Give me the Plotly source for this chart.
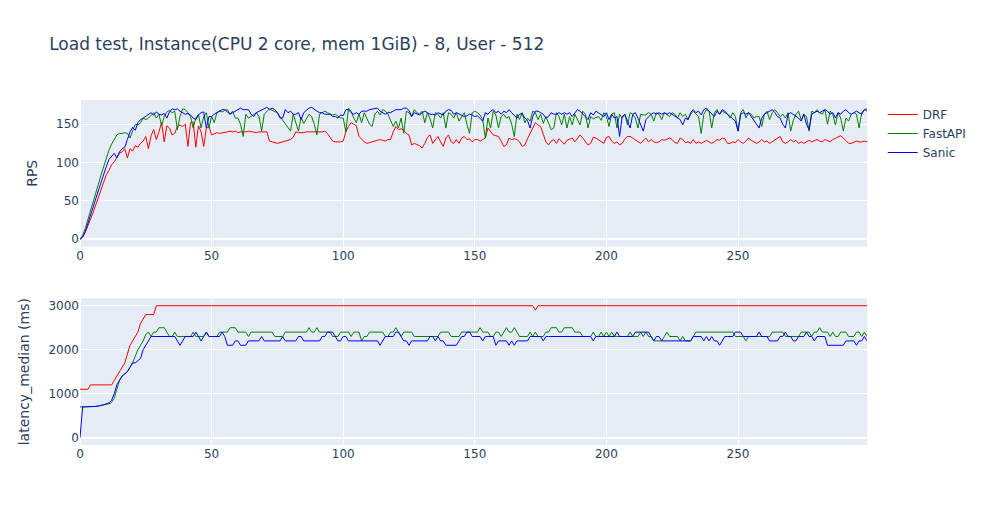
import plotly.graph_objects as go
from plotly.subplots import make_subplots

title = "Load test, Instance(CPU 2 core, mem 1GiB) - 8, User - 512"
series_names = ["DRF", "FastAPI", "Sanic"]
series_colors = ["red", "green", "blue"]

seconds = list(range(300))

rps_drf = [
    0, 3, 9, 17, 26, 35, 45, 55, 65, 75,
    84, 90, 97, 101, 106, 112, 114, 118, 106, 118,
    115, 122, 120, 125, 128, 134, 118, 135, 143, 130,
    140, 152, 127, 148, 145, 136, 138, 147, 149, 147,
    150, 121, 152, 153, 120, 148, 140, 121, 145, 147,
    136, 138, 139, 138, 139, 140, 140, 141, 140, 141,
    139, 140, 140, 140, 141, 140, 140, 139, 140, 140,
    140, 140, 128, 127, 126, 125, 126, 127, 128, 129,
    130, 133, 140, 139, 139, 139, 140, 140, 140, 140,
    140, 140, 140, 141, 138, 133, 128, 127, 127, 127,
    128, 140, 147, 152, 150, 148, 134, 130, 127, 125,
    126, 127, 128, 129, 130, 129, 128, 130, 130, 140,
    147, 143, 144, 142, 138, 136, 123, 125, 124, 122,
    119, 125, 133, 136, 125, 130, 134, 127, 121, 132,
    136, 127, 125, 130, 125, 132, 134, 130, 131, 127,
    130, 130, 128, 130, 132, 145, 140, 136, 135, 134,
    128, 121, 123, 132, 130, 131, 130, 127, 121, 123,
    131, 138, 144, 152, 149, 147, 137, 127, 123, 128,
    130, 125, 131, 127, 124, 129, 130, 132, 127, 132,
    136, 132, 127, 123, 125, 133, 132, 130, 127, 125,
    133, 134, 128, 125, 127, 123, 125, 131, 134, 134,
    132, 130, 127, 125, 129, 132, 127, 130, 127, 126,
    127, 130, 129, 130, 132, 130, 126, 125, 132, 130,
    126, 127, 125, 130, 125, 127, 125, 127, 129, 127,
    125, 127, 130, 129, 132, 131, 125, 125, 127, 126,
    130, 127, 125, 128, 132, 129, 127, 125, 127, 130,
    127, 128, 125, 127, 129, 132, 134, 127, 125, 127,
    130, 127, 129, 125, 127, 125, 127, 129, 127, 128,
    130, 128, 127, 130, 129, 127, 130, 132, 134, 135,
    132, 129, 125, 125, 127, 128, 127, 127, 128, 127,
]

rps_fastapi = [
    0, 5, 14, 25, 36, 48, 60, 72, 84, 95,
    106, 116, 124, 130, 136, 138, 138, 139, 138, 132,
    140, 150, 149, 152, 158, 156, 158, 162, 165, 158,
    163, 148, 160, 166, 168, 165, 167, 143, 160, 170,
    169, 165, 160, 145, 158, 163, 145, 160, 165, 145,
    160, 152, 165, 167, 166, 168, 169, 163, 167, 158,
    158, 150, 134, 163, 158, 160, 163, 165, 160, 141,
    163, 167, 170, 168, 166, 165, 160, 155, 150, 145,
    141, 163, 152, 141, 159, 151, 157, 163, 160, 150,
    136, 163, 165, 167, 165, 163, 162, 163, 160, 158,
    158, 140, 171, 167, 158, 152, 163, 152, 165, 158,
    150, 147, 163, 167, 162, 169, 167, 163, 155, 147,
    154, 145, 158, 138, 167, 165, 160, 169, 165, 163,
    167, 152, 165, 157, 145, 165, 163, 158, 165, 145,
    165, 163, 158, 165, 154, 160, 165, 150, 138, 165,
    167, 165, 162, 156, 132, 158, 145, 167, 162, 145,
    160, 163, 158, 160, 150, 134, 163, 156, 165, 152,
    158, 154, 167, 165, 156, 163, 151, 160, 150, 143,
    145, 165, 160, 149, 163, 145, 160, 149, 163, 156,
    149, 167, 163, 145, 160, 157, 158, 160, 155, 165,
    160, 147, 163, 165, 145, 163, 158, 163, 149, 165,
    163, 158, 145, 163, 162, 162, 165, 163, 154, 165,
    163, 156, 165, 163, 160, 165, 163, 158, 165, 160,
    163, 156, 163, 167, 163, 160, 138, 163, 169, 167,
    145, 165, 169, 163, 167, 165, 163, 158, 165, 160,
    141, 165, 169, 158, 165, 163, 158, 160, 160, 147,
    163, 167, 156, 165, 169, 165, 160, 163, 158, 165,
    141, 155, 163, 167, 156, 163, 160, 141, 167, 165,
    169, 165, 163, 169, 150, 167, 163, 149, 165, 158,
    141, 158, 154, 163, 165, 163, 145, 165, 169, 167,
]

rps_sanic = [
    0, 3, 10, 20, 31, 42, 53, 64, 75, 86,
    95, 104, 108, 112, 106, 114, 118, 120, 130, 140,
    146, 142, 152, 156, 158, 160, 162, 165, 162, 166,
    163, 162, 164, 158, 166, 170, 169, 170, 167, 165,
    163, 164, 162, 158, 156, 162, 165, 166, 145, 160,
    160, 163, 165, 167, 169, 169, 166, 163, 165, 167,
    169, 171, 169, 169, 169, 163, 160, 165, 167, 169,
    171, 172, 169, 171, 169, 165, 158, 158, 169, 165,
    167, 163, 163, 165, 156, 165, 168, 171, 172, 169,
    167, 165, 165, 163, 163, 163, 160, 160, 158, 162,
    161, 169, 169, 165, 163, 165, 163, 167, 167, 167,
    169, 170, 171, 171, 167, 165, 163, 165, 165, 167,
    169, 169, 169, 171, 171, 168, 160, 165, 163, 162,
    165, 167, 165, 163, 163, 162, 165, 163, 162, 167,
    169, 168, 163, 165, 163, 162, 160, 161, 163, 162,
    160, 161, 158, 154, 165, 163, 167, 169, 165, 167,
    163, 167, 165, 169, 165, 161, 158, 163, 164, 158,
    155, 145, 160, 167, 167, 165, 163, 158, 160, 165,
    163, 163, 165, 163, 165, 163, 165, 160, 165, 169,
    167, 163, 160, 156, 165, 162, 167, 165, 163, 160,
    165, 156, 163, 158, 160, 134, 160, 163, 154, 145,
    163, 165, 158, 150, 141, 156, 160, 163, 165, 163,
    165, 163, 165, 163, 165, 163, 160, 158, 156, 149,
    158, 156, 165, 169, 165, 167, 162, 169, 171, 167,
    163, 160, 167, 163, 169, 167, 163, 160, 158, 154,
    141, 163, 165, 163, 165, 160, 156, 150, 145, 158,
    163, 165, 167, 169, 165, 160, 158, 150, 145, 163,
    165, 163, 160, 158, 154, 163, 150, 143, 163, 165,
    167, 165, 167, 169, 167, 163, 165, 158, 165, 163,
    167, 169, 165, 163, 165, 167, 165, 163, 169, 170,
]

lat_drf = [
    1100, 1100, 1100, 1100, 1200, 1200, 1200, 1200, 1200, 1200,
    1200, 1200, 1200, 1300, 1400, 1500, 1600, 1700, 1900, 2100,
    2200, 2300, 2400, 2600, 2700, 2800, 2800, 2800, 2800, 3000,
    3000, 3000, 3000, 3000, 3000, 3000, 3000, 3000, 3000, 3000,
    3000, 3000, 3000, 3000, 3000, 3000, 3000, 3000, 3000, 3000,
    3000, 3000, 3000, 3000, 3000, 3000, 3000, 3000, 3000, 3000,
    3000, 3000, 3000, 3000, 3000, 3000, 3000, 3000, 3000, 3000,
    3000, 3000, 3000, 3000, 3000, 3000, 3000, 3000, 3000, 3000,
    3000, 3000, 3000, 3000, 3000, 3000, 3000, 3000, 3000, 3000,
    3000, 3000, 3000, 3000, 3000, 3000, 3000, 3000, 3000, 3000,
    3000, 3000, 3000, 3000, 3000, 3000, 3000, 3000, 3000, 3000,
    3000, 3000, 3000, 3000, 3000, 3000, 3000, 3000, 3000, 3000,
    3000, 3000, 3000, 3000, 3000, 3000, 3000, 3000, 3000, 3000,
    3000, 3000, 3000, 3000, 3000, 3000, 3000, 3000, 3000, 3000,
    3000, 3000, 3000, 3000, 3000, 3000, 3000, 3000, 3000, 3000,
    3000, 3000, 3000, 3000, 3000, 3000, 3000, 3000, 3000, 3000,
    3000, 3000, 3000, 3000, 3000, 3000, 3000, 3000, 3000, 3000,
    3000, 3000, 3000, 2900, 3000, 3000, 3000, 3000, 3000, 3000,
    3000, 3000, 3000, 3000, 3000, 3000, 3000, 3000, 3000, 3000,
    3000, 3000, 3000, 3000, 3000, 3000, 3000, 3000, 3000, 3000,
    3000, 3000, 3000, 3000, 3000, 3000, 3000, 3000, 3000, 3000,
    3000, 3000, 3000, 3000, 3000, 3000, 3000, 3000, 3000, 3000,
    3000, 3000, 3000, 3000, 3000, 3000, 3000, 3000, 3000, 3000,
    3000, 3000, 3000, 3000, 3000, 3000, 3000, 3000, 3000, 3000,
    3000, 3000, 3000, 3000, 3000, 3000, 3000, 3000, 3000, 3000,
    3000, 3000, 3000, 3000, 3000, 3000, 3000, 3000, 3000, 3000,
    3000, 3000, 3000, 3000, 3000, 3000, 3000, 3000, 3000, 3000,
    3000, 3000, 3000, 3000, 3000, 3000, 3000, 3000, 3000, 3000,
    3000, 3000, 3000, 3000, 3000, 3000, 3000, 3000, 3000, 3000,
    3000, 3000, 3000, 3000, 3000, 3000, 3000, 3000, 3000, 3000,
]

lat_fastapi = [
    700, 700, 700, 700, 700, 700, 710, 720, 730, 740,
    750, 770, 800, 900, 1100, 1300, 1400, 1450, 1500, 1600,
    1700, 1850, 2000, 2100, 2200, 2350, 2400, 2300, 2400, 2400,
    2500, 2500, 2500, 2400, 2300, 2300, 2400, 2300, 2300, 2300,
    2300, 2300, 2300, 2400, 2300, 2300, 2300, 2300, 2400, 2300,
    2300, 2300, 2300, 2400, 2400, 2400, 2400, 2500, 2500, 2500,
    2400, 2400, 2400, 2400, 2300, 2400, 2400, 2400, 2400, 2400,
    2400, 2400, 2400, 2400, 2300, 2300, 2300, 2300, 2400, 2400,
    2400, 2400, 2400, 2400, 2400, 2400, 2400, 2500, 2400, 2400,
    2500, 2400, 2400, 2400, 2400, 2400, 2300, 2300, 2300, 2400,
    2400, 2400, 2400, 2300, 2400, 2400, 2400, 2200, 2300, 2300,
    2400, 2400, 2400, 2400, 2400, 2400, 2300, 2300, 2400, 2400,
    2500, 2400, 2300, 2400, 2400, 2400, 2400, 2300, 2300, 2300,
    2300, 2300, 2300, 2300, 2300, 2300, 2300, 2400, 2400, 2400,
    2400, 2300, 2300, 2300, 2300, 2400, 2400, 2400, 2400, 2400,
    2400, 2400, 2500, 2400, 2400, 2400, 2300, 2300, 2400, 2400,
    2300, 2400, 2500, 2400, 2400, 2500, 2400, 2300, 2300, 2300,
    2300, 2400, 2300, 2400, 2300, 2300, 2300, 2400, 2400, 2500,
    2500, 2500, 2400, 2400, 2500, 2500, 2500, 2500, 2400, 2400,
    2400, 2300, 2300, 2300, 2300, 2400, 2300, 2300, 2400, 2300,
    2400, 2300, 2400, 2300, 2300, 2300, 2300, 2300, 2300, 2400,
    2300, 2300, 2300, 2400, 2300, 2400, 2300, 2300, 2200, 2200,
    2200, 2200, 2300, 2400, 2300, 2300, 2300, 2300, 2200, 2300,
    2200, 2200, 2200, 2300, 2400, 2400, 2400, 2400, 2400, 2400,
    2400, 2400, 2400, 2400, 2400, 2400, 2400, 2400, 2400, 2300,
    2300, 2300, 2300, 2200, 2300, 2300, 2300, 2300, 2300, 2300,
    2300, 2300, 2300, 2400, 2400, 2400, 2400, 2400, 2300, 2300,
    2300, 2300, 2300, 2300, 2400, 2400, 2400, 2400, 2300, 2400,
    2400, 2500, 2400, 2400, 2400, 2300, 2400, 2300, 2300, 2400,
    2400, 2400, 2300, 2300, 2300, 2400, 2400, 2300, 2400, 2300,
]

lat_sanic = [
    0, 700, 700, 700, 700, 700, 710, 720, 730, 750,
    770, 790, 850, 1000, 1200, 1300, 1400, 1450, 1500, 1600,
    1700, 1700, 1750, 1800, 2000, 2100, 2200, 2300, 2300, 2300,
    2300, 2300, 2300, 2300, 2300, 2300, 2300, 2200, 2100, 2200,
    2300, 2300, 2300, 2300, 2400, 2300, 2200, 2300, 2400, 2300,
    2300, 2300, 2300, 2300, 2400, 2300, 2100, 2100, 2100, 2200,
    2200, 2100, 2100, 2100, 2200, 2200, 2200, 2200, 2200, 2300,
    2200, 2200, 2200, 2200, 2200, 2200, 2200, 2300, 2200, 2200,
    2200, 2200, 2200, 2300, 2300, 2200, 2200, 2200, 2200, 2200,
    2200, 2200, 2300, 2300, 2400, 2400, 2400, 2300, 2200, 2200,
    2300, 2300, 2200, 2200, 2200, 2200, 2200, 2200, 2200, 2200,
    2200, 2200, 2200, 2200, 2100, 2200, 2300, 2300, 2300, 2300,
    2400, 2400, 2300, 2200, 2200, 2100, 2200, 2200, 2200, 2200,
    2200, 2200, 2200, 2300, 2300, 2200, 2300, 2200, 2200, 2100,
    2100, 2100, 2100, 2100, 2200, 2300, 2300, 2400, 2400, 2300,
    2300, 2300, 2300, 2200, 2300, 2300, 2300, 2300, 2100, 2200,
    2200, 2200, 2200, 2100, 2200, 2100, 2200, 2200, 2200, 2200,
    2200, 2300, 2300, 2300, 2300, 2300, 2200, 2300, 2300, 2300,
    2300, 2300, 2300, 2300, 2300, 2300, 2300, 2300, 2300, 2300,
    2300, 2300, 2300, 2300, 2300, 2200, 2300, 2300, 2300, 2300,
    2300, 2300, 2300, 2300, 2400, 2300, 2300, 2300, 2300, 2300,
    2300, 2400, 2400, 2400, 2400, 2400, 2400, 2300, 2200, 2300,
    2300, 2200, 2200, 2200, 2200, 2200, 2200, 2200, 2200, 2200,
    2200, 2200, 2200, 2300, 2300, 2300, 2300, 2200, 2300, 2200,
    2300, 2200, 2200, 2100, 2200, 2300, 2300, 2300, 2300, 2400,
    2400, 2400, 2300, 2300, 2300, 2300, 2300, 2300, 2400, 2300,
    2300, 2300, 2200, 2200, 2200, 2200, 2300, 2300, 2400, 2300,
    2300, 2200, 2200, 2300, 2300, 2300, 2400, 2300, 2300, 2200,
    2300, 2300, 2300, 2300, 2100, 2100, 2100, 2100, 2100, 2100,
    2100, 2200, 2200, 2200, 2200, 2100, 2200, 2200, 2300, 2200,
]

rps_series = [rps_drf, rps_fastapi, rps_sanic]
lat_series = [lat_drf, lat_fastapi, lat_sanic]

fig = make_subplots(rows=2, cols=1)

for name, color, rps in zip(series_names, series_colors, rps_series):
    fig.add_trace(go.Scatter(x=seconds, y=rps, mode="lines", name=name,
                             line=dict(color=color, width=1)), row=1, col=1)
for name, color, lat in zip(series_names, series_colors, lat_series):
    fig.add_trace(go.Scatter(x=seconds, y=lat, mode="lines", name=name,
                             showlegend=False,
                             line=dict(color=color, width=1)), row=2, col=1)

fig.update_yaxes(title_text="RPS", row=1, col=1)
fig.update_yaxes(title_text="latency_median (ms)", row=2, col=1)
fig.update_layout(
    title=dict(text=title),
    width=984, height=525,
    template="plotly",
    font=dict(family="DejaVu Sans, Verdana, sans-serif"),
)

fig.write_html("out.html")
